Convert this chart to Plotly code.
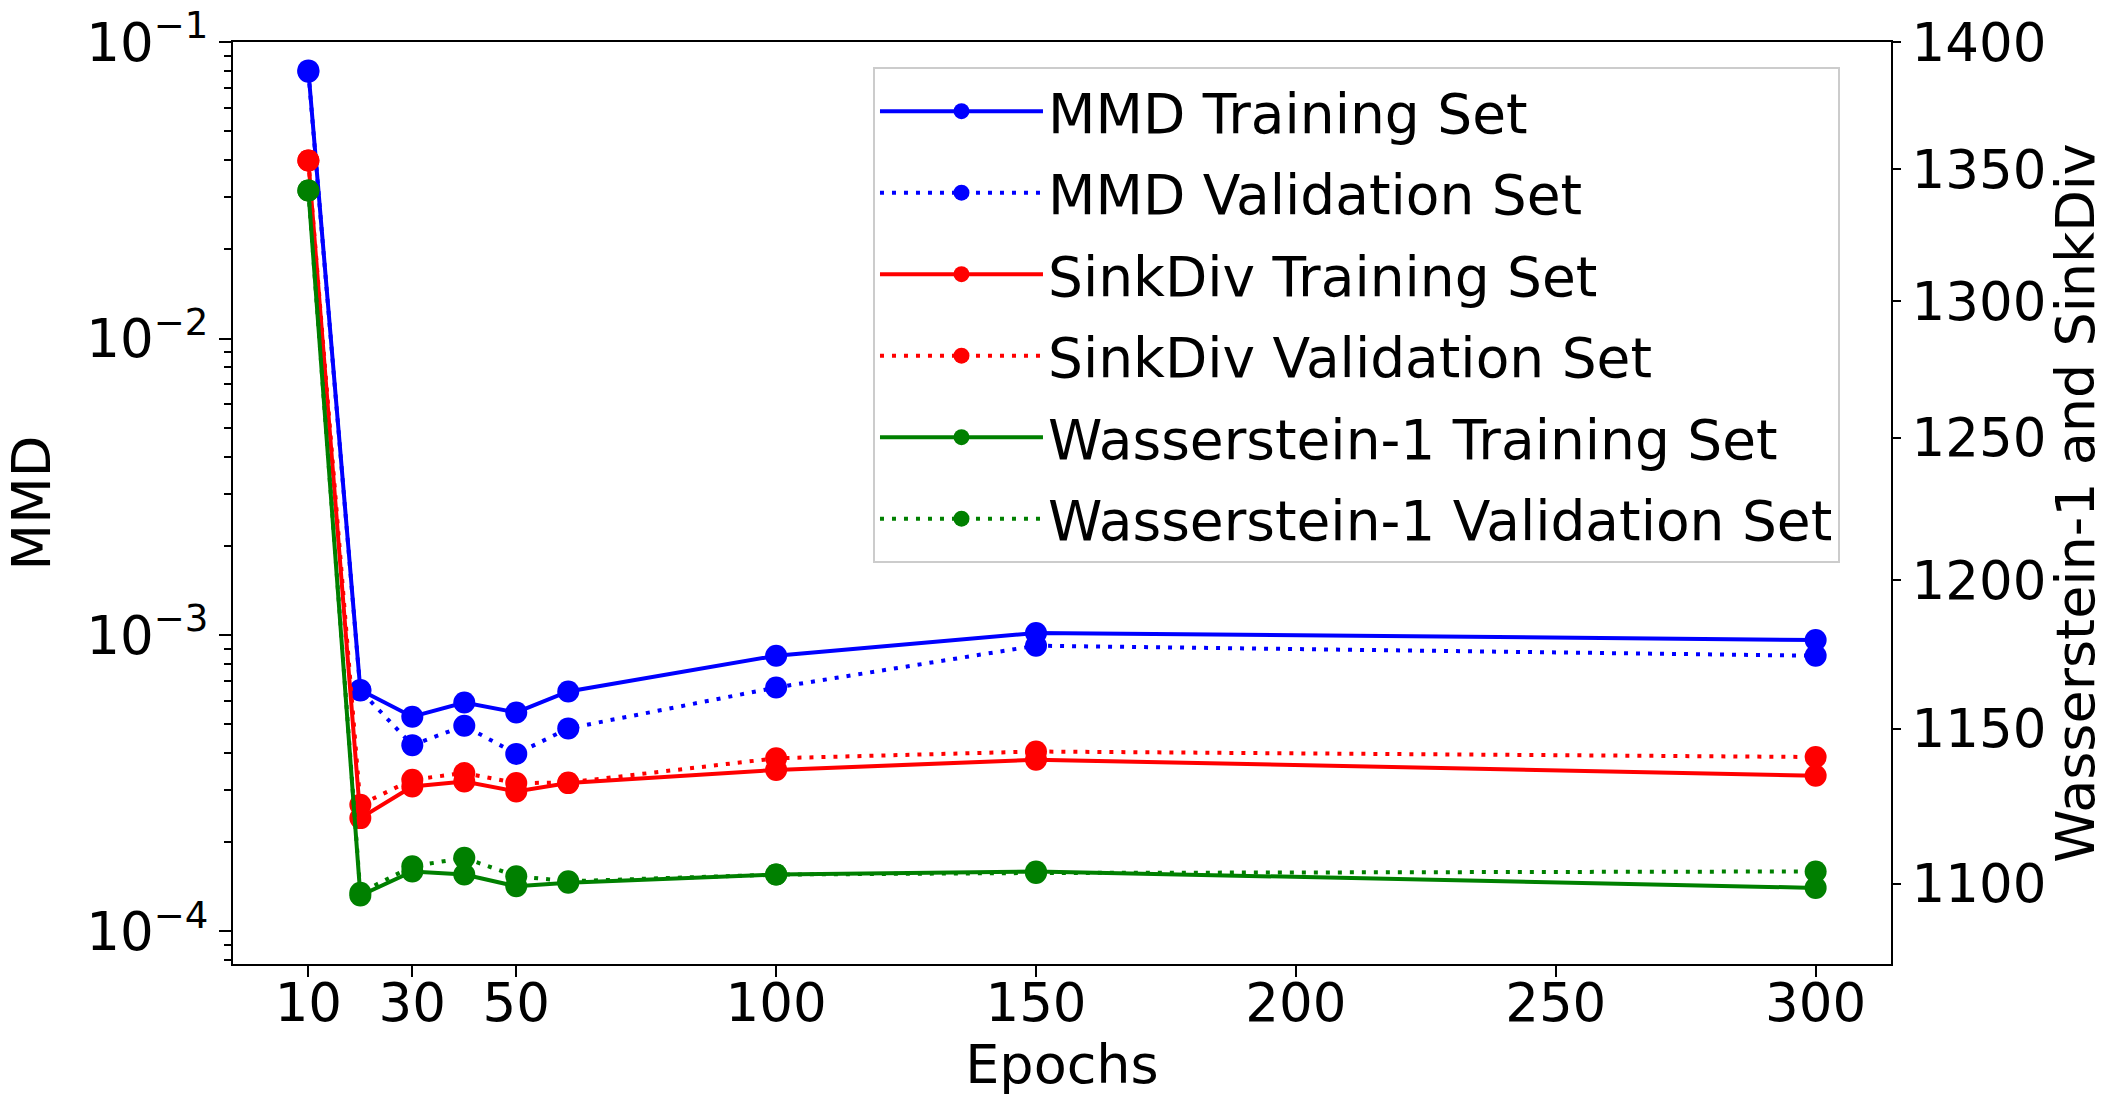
import plotly.graph_objects as go

# ---- data ----
epochs = [10, 20, 30, 40, 50, 60, 100, 150, 300]
mmd_train = [0.0803, 6.52e-4, 5.30e-4, 5.92e-4, 5.48e-4, 6.45e-4, 8.51e-4, 1.016e-3, 9.62e-4]
mmd_val = [0.0795, 6.50e-4, 4.25e-4, 4.94e-4, 3.97e-4, 4.84e-4, 6.65e-4, 9.20e-4, 8.51e-4]
sink_train = [1353.4, 1120.9, 1131.1, 1132.7, 1129.5, 1132.2, 1136.5, 1139.8, 1134.6]
sink_val = [1353.4, 1125.2, 1133.3, 1135.5, 1132.2, 1132.4, 1140.3, 1142.5, 1140.7]
w1_train = [1341.8, 1096.3, 1103.9, 1102.9, 1099.2, 1100.3, 1102.9, 1103.9, 1098.7]
w1_val = [1341.8, 1097.2, 1105.5, 1108.2, 1102.4, 1100.8, 1102.9, 1103.4, 1103.9]

x_ticks = [10, 30, 50, 100, 150, 200, 250, 300]
left_ticks = [1e-4, 1e-3, 1e-2, 1e-1]
left_ticktext = ["10<sup>\u22124</sup>", "10<sup>\u22123</sup>", "10<sup>\u22122</sup>", "10<sup>\u22121</sup>"]
right_ticks = [1100, 1150, 1200, 1250, 1300, 1350, 1400]
left_minor = [k * 10.0 ** e for e in range(-5, -1) for k in range(2, 10)]

FONT = "DejaVu Sans"
DOT = "4px,8px"

series = [
    ("MMD Training Set", mmd_train, "#0000ff", "solid", "y"),
    ("MMD Validation Set", mmd_val, "#0000ff", DOT, "y"),
    ("SinkDiv Training Set", sink_train, "#ff0000", "solid", "y2"),
    ("SinkDiv Validation Set", sink_val, "#ff0000", DOT, "y2"),
    ("Wasserstein-1 Training Set", w1_train, "#008000", "solid", "y2"),
    ("Wasserstein-1 Validation Set", w1_val, "#008000", DOT, "y2"),
]

fig = go.Figure()
for i, (name, vals, color, dash, yax) in enumerate(series):
    fig.add_trace(go.Scatter(
        x=epochs, y=vals, name=name, yaxis=yax, mode="lines+markers",
        line=dict(color=color, width=4, dash=dash),
        marker=dict(color=color, size=22, line=dict(width=0)),
        legendgroup=f"g{i}",
    ))

axis_common = dict(
    showline=True, linecolor="black", linewidth=2,
    ticks="outside", tickcolor="black", tickwidth=2,
    tickfont=dict(family=FONT, size=53, color="black"),
    showgrid=False, zeroline=False, ticklabeloverflow="allow",
)

fig.update_layout(
    width=2107, height=1102,
    margin=dict(l=233, r=216, t=42, b=138, autoexpand=False),
    paper_bgcolor="white", plot_bgcolor="white",
    font=dict(family=FONT, size=53, color="black"),
    showlegend=True,
    legend=dict(
        x=0.386, y=0.973, xanchor="left", yanchor="top",
        bgcolor="white", bordercolor="#cccccc", borderwidth=2,
        font=dict(family=FONT, size=55, color="black"),
        tracegroupgap=7, traceorder="grouped", itemwidth=163,
    ),
    xaxis=dict(
        **axis_common, mirror=True, ticklen=11, ticklabelstandoff=-20,
        range=[-4.5, 314.5], tickmode="array", tickvals=x_ticks,
        title=dict(text="Epochs", font=dict(family=FONT, size=54), standoff=12),
    ),
    yaxis=dict(
        **axis_common, type="log", range=[-4.110, -0.9995], ticklen=12,
        tickmode="array", tickvals=left_ticks, ticktext=left_ticktext,
        minor=dict(ticks="outside", ticklen=7, tickwidth=2, tickcolor="black",
                   tickmode="array", tickvals=left_minor),
        title=dict(text="MMD", font=dict(family=FONT, size=54), standoff=22),
    ),
    yaxis2=dict(
        **axis_common, type="log", overlaying="y", side="right",
        range=[3.031405, 3.14618], ticklen=8,
        tickmode="array", tickvals=right_ticks, ticktext=[str(v) for v in right_ticks],
        title=dict(text="Wasserstein-1 and SinkDiv", font=dict(family=FONT, size=54), standoff=0),
    ),
)

# remove the page's default 8px body margin so the figure fills the window exactly
fig.write_html(
    "out.html",
    config={"displayModeBar": False},
    post_script="document.body.style.margin='0px';document.body.style.overflow='hidden';",
)
